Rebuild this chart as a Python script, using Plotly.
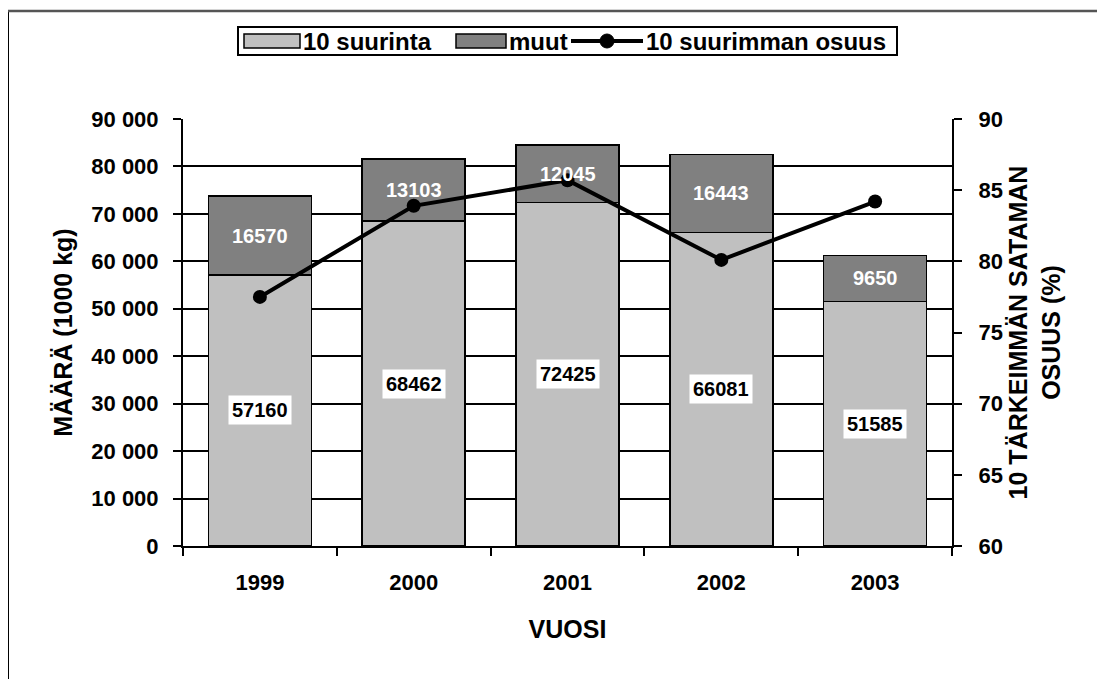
import plotly.graph_objects as go

years = [1999, 2000, 2001, 2002, 2003]
top10 = [57160, 68462, 72425, 66081, 51585]
others = [16570, 13103, 12045, 16443, 9650]
share = [77.5, 83.9, 85.7, 80.1, 84.2]

names = ['10 suurinta', 'muut', '10 suurimman osuus']
LIGHT, DARK = '#C0C0C0', '#808080'

FONT = 'Arial, Liberation Sans, sans-serif'
W, H = 1105, 679
OFF = 8  # page body margin
L, R, T, B = 183 - OFF, 952 - OFF, 119 - OFF, 546 - OFF  # plot area in figure pixels


def px_x(p):
    return (p - OFF - L) / (R - L)


def px_y(p):
    return (B - (p - OFF)) / (B - T)


fig = go.Figure()

fig.add_trace(go.Bar(
    x=years, y=top10, name=names[0], width=0.67,
    marker=dict(color=LIGHT, line=dict(color='black', width=1.5)),
))
fig.add_trace(go.Bar(
    x=years, y=others, name=names[1], width=0.67,
    marker=dict(color=DARK, line=dict(color='black', width=1.5)),
))
fig.add_trace(go.Scatter(
    x=years, y=share, name=names[2], yaxis='y2',
    mode='lines+markers',
    line=dict(color='black', width=4),
    marker=dict(color='black', size=14),
))

# value labels
for yr, a, b in zip(years, top10, others):
    fig.add_annotation(x=yr, y=a / 2, xref='x', yref='y', text=str(a), showarrow=False,
                       font=dict(family=FONT, size=20, color='black', weight='bold'),
                       bgcolor='white', borderpad=3)
    fig.add_annotation(x=yr, y=a + b / 2, xref='x', yref='y', text=str(b), showarrow=False,
                       font=dict(family=FONT, size=20, color='white', weight='bold'))

# outer frame (left and top edges visible)
fig.add_shape(type='line', xref='paper', yref='paper',
              x0=px_x(8), x1=px_x(8), y0=px_y(10), y1=px_y(700),
              line=dict(color='black', width=2))
fig.add_shape(type='line', xref='paper', yref='paper',
              x0=px_x(7), x1=px_x(1120), y0=px_y(11), y1=px_y(11),
              line=dict(color='#555555', width=2.5))

# legend drawn by hand (Excel-style wide swatches)
legfont = dict(family=FONT, size=24, color='black', weight='bold')
fig.add_shape(type='rect', xref='paper', yref='paper',
              x0=px_x(238), x1=px_x(897), y0=px_y(27), y1=px_y(55),
              line=dict(color='black', width=2), fillcolor='white', layer='above')
for x0, x1, col in [(244, 300, LIGHT), (456, 506, DARK)]:
    fig.add_shape(type='rect', xref='paper', yref='paper',
                  x0=px_x(x0), x1=px_x(x1), y0=px_y(34), y1=px_y(48),
                  line=dict(color='black', width=1.5), fillcolor=col, layer='above')
fig.add_shape(type='line', xref='paper', yref='paper',
              x0=px_x(571), x1=px_x(643), y0=px_y(41), y1=px_y(41),
              line=dict(color='black', width=4), layer='above')
fig.add_shape(type='circle', xref='paper', yref='paper',
              x0=px_x(600), x1=px_x(614), y0=px_y(34), y1=px_y(48),
              line=dict(color='black', width=1), fillcolor='black', layer='above')
for xt, txt in zip([302, 508, 645], names):
    fig.add_annotation(xref='paper', yref='paper', x=px_x(xt), y=px_y(41),
                       xanchor='left', yanchor='middle', text=txt, showarrow=False,
                       font=legfont, borderpad=0)

tickfont = dict(family=FONT, size=22, color='black', weight='bold')
titlefont = dict(family=FONT, size=25, color='black', weight='bold')

fig.update_layout(
    width=W, height=H,
    margin=dict(l=L, r=W - R, t=T, b=H - B),
    paper_bgcolor='white', plot_bgcolor='white',
    barmode='stack',
    font=dict(family=FONT, color='black'),
    showlegend=False,
    xaxis=dict(
        range=[years[0] - 0.5, years[-1] + 0.5], autorange=False,
        tickmode='array', tickvals=years, ticktext=[str(y) for y in years],
        ticks='', tickangle=0, ticklabelstandoff=16,
        minor=dict(ticks='outside', tick0=years[0] - 0.5, dtick=1, ticklen=8,
                   tickwidth=2, tickcolor='black', showgrid=False),
        showline=True, linecolor='black', linewidth=2,
        showgrid=False, zeroline=False,
        tickfont=tickfont,
        title=dict(text='VUOSI', font=titlefont, standoff=26),
    ),
    yaxis=dict(
        range=[0, 90000], autorange=False, dtick=10000, tickformat=',d',
        showline=True, linecolor='black', linewidth=2,
        ticks='outside', ticklen=8, tickwidth=2, tickcolor='black',
        ticklabelstandoff=10,
        showgrid=True, gridcolor='black', gridwidth=2,
        zeroline=False,
        tickfont=tickfont,
        title=dict(text='MÄÄRÄ (1000 kg)', font=titlefont, standoff=12),
    ),
    yaxis2=dict(
        range=[60, 90], autorange=False, dtick=5, overlaying='y', side='right',
        showline=True, linecolor='black', linewidth=2,
        ticks='outside', ticklen=8, tickwidth=2, tickcolor='black',
        ticklabelstandoff=12,
        showgrid=False, zeroline=False,
        tickfont=tickfont,
        title=dict(text='10 TÄRKEIMMÄN SATAMAN<br>OSUUS (%)', font=titlefont, standoff=8),
    ),
    separators='. ',
)

fig.write_html('out.html')
